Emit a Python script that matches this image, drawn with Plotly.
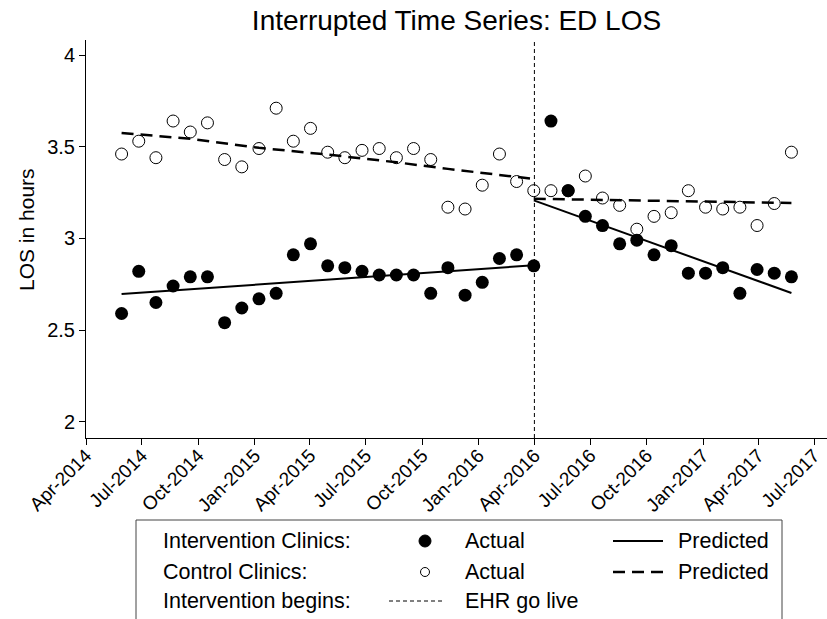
import plotly.graph_objects as go
import pandas as pd

# 4-week reporting periods before / after EHR go live
pre_dates = pd.date_range("2014-05-29", periods=25, freq="28D")
post_dates = pd.date_range("2016-04-28", periods=15, freq="28D")
go_live = "2016-04-01"

# actual values (LOS in hours)
interv_pre = [2.59, 2.82, 2.65, 2.74, 2.79, 2.79, 2.54, 2.62, 2.67, 2.70, 2.91, 2.97, 2.85,
              2.84, 2.82, 2.80, 2.80, 2.80, 2.70, 2.84, 2.69, 2.76, 2.89, 2.91, 2.85]
interv_post = [3.64, 3.26, 3.12, 3.07, 2.97, 2.99, 2.91, 2.96, 2.81, 2.81, 2.84, 2.70, 2.83, 2.81, 2.79]
control_pre = [3.46, 3.53, 3.44, 3.64, 3.58, 3.63, 3.43, 3.39, 3.49, 3.71, 3.53, 3.60, 3.47,
               3.44, 3.48, 3.49, 3.44, 3.49, 3.43, 3.17, 3.16, 3.29, 3.46, 3.31, 3.26]
control_post = [3.26, 3.26, 3.34, 3.22, 3.18, 3.05, 3.12, 3.14, 3.26, 3.17, 3.16, 3.17, 3.07, 3.19, 3.47]

# predicted segments
interv_pred_pre_x = [pre_dates[0], pre_dates[-1]]
interv_pred_pre = [2.696, 2.853]
interv_pred_post_x = [pre_dates[-1], post_dates[-1]]
interv_pred_post = [3.207, 2.702]
control_knots = [0, 4, 8, 12, 16, 19, 24]
control_pred_pre = [3.575, 3.543, 3.494, 3.457, 3.415, 3.379, 3.324]
control_pred_post_x = [pre_dates[-1], post_dates[-1]]
control_pred_post = [3.216, 3.193]

FONT = "Liberation Sans, Arial, sans-serif"
W, H = 827, 619
L, R, T, B = 86, 0, 40, 181
pw, ph = W - L - R, H - T - B


def px(x):
    return (x - L) / pw


def py(y):
    return (H - B - y) / ph


fig = go.Figure()

fig.add_trace(go.Scatter(x=pre_dates, y=control_pre, mode="markers",
                         marker=dict(symbol="circle-open", size=12, color="black", line=dict(width=1))))
fig.add_trace(go.Scatter(x=post_dates, y=control_post, mode="markers",
                         marker=dict(symbol="circle-open", size=12, color="black", line=dict(width=1))))
fig.add_trace(go.Scatter(x=[pre_dates[i] for i in control_knots], y=control_pred_pre, mode="lines",
                         line=dict(color="black", width=2.5, dash="12px,7px")))
fig.add_trace(go.Scatter(x=control_pred_post_x, y=control_pred_post, mode="lines",
                         line=dict(color="black", width=2.5, dash="12px,7px")))
fig.add_trace(go.Scatter(x=interv_pred_pre_x, y=interv_pred_pre, mode="lines",
                         line=dict(color="black", width=2)))
fig.add_trace(go.Scatter(x=interv_pred_post_x, y=interv_pred_post, mode="lines",
                         line=dict(color="black", width=2)))
fig.add_trace(go.Scatter(x=pre_dates, y=interv_pre, mode="markers",
                         marker=dict(symbol="circle", size=13, color="black")))
fig.add_trace(go.Scatter(x=post_dates, y=interv_post, mode="markers",
                         marker=dict(symbol="circle", size=13, color="black")))

shapes = [
    dict(type="line", xref="x", yref="paper", x0=go_live, x1=go_live, y0=0, y1=1,
         line=dict(color="black", width=1, dash="4px,3px")),
    # legend box
    dict(type="rect", xref="paper", yref="paper", x0=px(136), x1=px(782), y0=py(520), y1=py(640),
         line=dict(color="#444444", width=1), fillcolor="white"),
    dict(type="circle", xref="paper", yref="paper", xsizemode="pixel", ysizemode="pixel",
         xanchor=px(425), yanchor=py(541), x0=-6, x1=6, y0=-6, y1=6,
         fillcolor="black", line=dict(color="black", width=1)),
    dict(type="circle", xref="paper", yref="paper", xsizemode="pixel", ysizemode="pixel",
         xanchor=px(425), yanchor=py(572), x0=-4.5, x1=4.5, y0=-4.5, y1=4.5,
         fillcolor="white", line=dict(color="black", width=1)),
    dict(type="line", xref="paper", yref="paper", x0=px(613), x1=px(663), y0=py(541), y1=py(541),
         line=dict(color="black", width=2)),
    dict(type="line", xref="paper", yref="paper", x0=px(613), x1=px(663), y0=py(572), y1=py(572),
         line=dict(color="black", width=2.5, dash="12px,7px")),
    dict(type="line", xref="paper", yref="paper", x0=px(389), x1=px(442), y0=py(601), y1=py(601),
         line=dict(color="black", width=1, dash="4px,3px")),
]

legend_texts = [
    (161, 541, "Intervention Clinics:"), (463, 541, "Actual"), (676, 541, "Predicted"),
    (161, 572, "Control Clinics:"), (463, 572, "Actual"), (676, 572, "Predicted"),
    (161, 601, "Intervention begins:"), (463, 601, "EHR go live"),
]
annotations = [dict(x=px(x), y=py(y), xref="paper", yref="paper", text=t, showarrow=False,
                    xanchor="left", yanchor="middle", font=dict(family=FONT, size=21.5, color="black"))
               for x, y, t in legend_texts]
annotations.append(dict(x=px(27), y=py(230), xref="paper", yref="paper", text="LOS in hours",
                        showarrow=False, textangle=-90, xanchor="center", yanchor="middle",
                        font=dict(family=FONT, size=21, color="black")))

fig.update_layout(
    width=W, height=H,
    margin=dict(l=L, r=R, t=T, b=B, autoexpand=False),
    paper_bgcolor="white", plot_bgcolor="white",
    showlegend=False,
    title=dict(text="Interrupted Time Series: ED LOS", x=0.5, xref="paper", xanchor="center",
               y=1 - 20 / H, yanchor="middle", font=dict(family=FONT, size=28, color="black")),
    font=dict(family=FONT, color="black"),
    shapes=shapes,
    annotations=annotations,
)
fig.update_xaxes(range=["2014-04-01", "2017-07-22"], tick0="2014-04-01", dtick="M3",
                 tickformat="%b-%Y", tickangle=-45, ticks="outside", ticklen=6, tickcolor="black",
                 ticklabelstandoff=-8,
                 showline=True, linecolor="black", linewidth=1, showgrid=False, zeroline=False,
                 automargin=False, tickfont=dict(family=FONT, size=19, color="black"))
fig.update_yaxes(range=[1.911, 4.082], tickvals=[2, 2.5, 3, 3.5, 4], ticks="outside", ticklen=6,
                 tickcolor="black", showline=True, linecolor="black", linewidth=1, showgrid=False,
                 zeroline=False, automargin=False, tickfont=dict(family=FONT, size=20, color="black"))

# page body has an 8px default margin; drop it so the figure fills the window
fig.write_html("out.html", config={"displayModeBar": False},
               post_script="document.body.style.margin = '0';")
